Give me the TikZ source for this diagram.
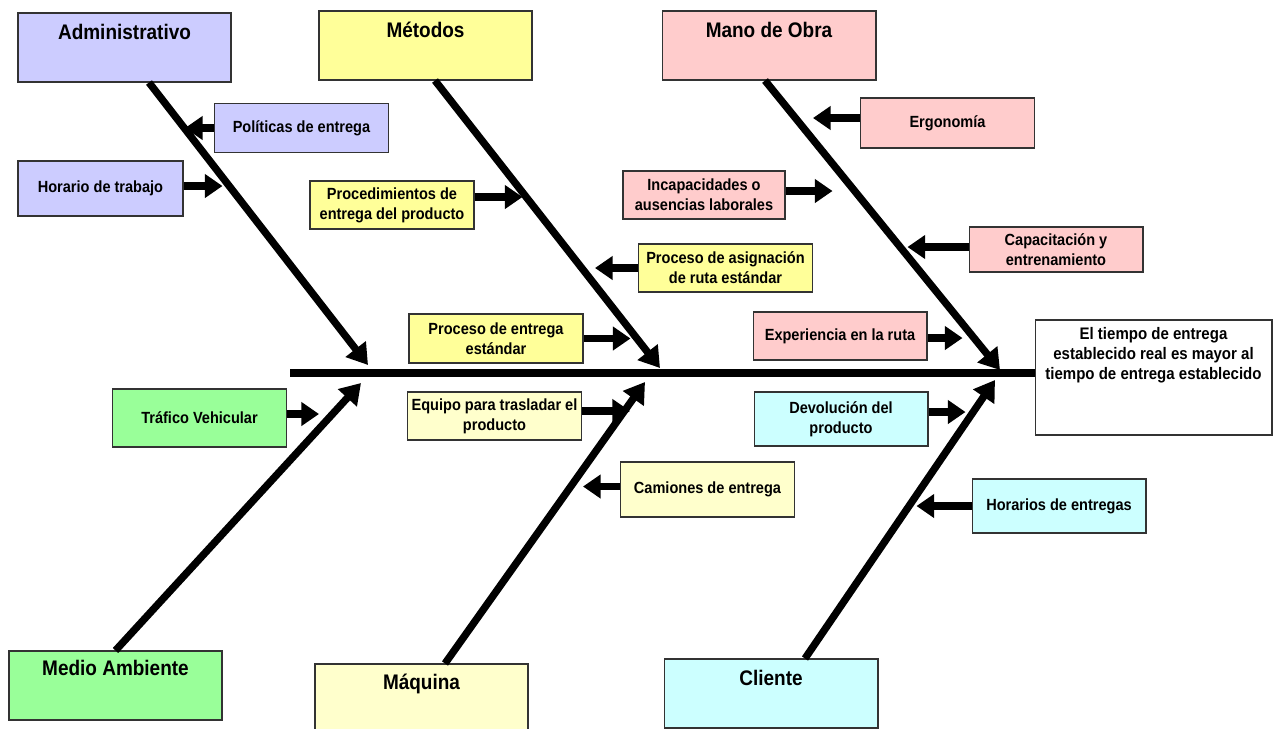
\documentclass[tikz,border=0pt]{standalone}
\usepackage{fontspec}
\setmainfont{Liberation Sans}[FakeStretch=0.9]
\usetikzlibrary{positioning, arrows.meta, calc}
\definecolor{admblue}{HTML}{CCCCFF}
\definecolor{metyellow}{HTML}{FFFF99}
\definecolor{obrapink}{HTML}{FFCCCC}
\definecolor{ambgreen}{HTML}{99FF99}
\definecolor{maqyellow}{HTML}{FFFFCC}
\definecolor{clicyan}{HTML}{CCFFFF}

\begin{document}
\begin{tikzpicture}[x=0.02cm, y=-0.02cm,
    catbox/.style={draw=black!80, line width=0.6pt, minimum width=4.26cm,
        minimum height=1.38cm, inner sep=0pt},
    catlabel/.style={anchor=north, inner sep=0pt, yshift=-0.22cm, text height=8.7pt,
        font=\fontsize{12}{14}\selectfont\bfseries},
    causebox/.style={draw=black!80, line width=0.6pt, minimum width=3.48cm,
        minimum height=0.98cm, inner sep=0pt, align=center,
        font=\fontsize{9.2}{11.5}\selectfont\bfseries},
    bone/.style={line width=4.2pt, -{Triangle[length=11.5pt, width=14pt]}},
    twig/.style={line width=4pt, -{Triangle[length=10pt, width=13pt]}}]
    \useasboundingbox (0,0) rectangle (1281,728);

    % Categories
    \node[catbox, fill=admblue, label={[catlabel]north:Administrativo}] (adm) at (124.5,47.5) {};
    \node[catbox, fill=metyellow, label={[catlabel]north:Métodos}] (met) at (425.5,45.5) {};
    \node[catbox, fill=obrapink, minimum width=4.28cm, label={[catlabel]north:Mano de Obra}] (obra) at (769,45.5) {};
    \node[catbox, fill=ambgreen, label={[catlabel, yshift=0.04cm]north:Medio Ambiente}] (amb) at (115.5,685.5) {};
    \node[catbox, fill=maqyellow, label={[catlabel, yshift=0.02cm]north:Máquina}] (maq) at (421.5,698.5) {};
    \node[catbox, fill=clicyan, minimum width=4.28cm, label={[catlabel]north:Cliente}] (cli) at (771,693.5) {};

    % Effect
    \node[draw=black!80, line width=0.6pt, fill=white, minimum width=4.74cm, minimum height=2.3cm,
        label={[anchor=north, yshift=-0.15cm, inner sep=0pt, align=center,
        font=\fontsize{9.5}{11.4}\selectfont\bfseries]north:El tiempo de entrega\\establecido real es mayor al\\tiempo de entrega establecido}]
        (eff) at (1153.5,377.5) {};

    % Spine and bones
    \coordinate (tail) at (290,373);
    \draw[line width=4.5pt] (tail) -- (tail -| eff.west);
    \coordinate (tadm) at (368,365);
    \coordinate (tmet) at (660,368);
    \coordinate (tobra) at (1000,370);
    \coordinate (tamb) at (361,383);
    \coordinate (tmaq) at (645,382);
    \coordinate (tcli) at (995,380);
    \draw[bone] ($(adm.south)+(24.5,0)$) -- (tadm);
    \draw[bone] ($(met.south)+(9.5,0)$) -- (tmet);
    \draw[bone] ($(obra.south)+(-4,0)$) -- (tobra);
    \draw[bone] (amb.north) -- (tamb);
    \draw[bone] ($(maq.north)+(23.5,0)$) -- (tmaq);
    \draw[bone] ($(cli.north)+(34,0)$) -- (tcli);

    % Causes
    \node[causebox, fill=admblue] (pol) at (301.5,128) {Políticas de entrega};
    \node[causebox, fill=admblue, minimum width=3.3cm, minimum height=1.1cm] (hor) at (100.5,188.5) {Horario de trabajo};
    \node[causebox, fill=metyellow, minimum width=3.28cm, minimum height=0.96cm] (proc) at (392,205) {Procedimientos de\\entrega del producto};
    \node[causebox, fill=metyellow, minimum height=0.96cm] (asig) at (725.5,268) {Proceso de asignación\\de ruta estándar};
    \node[causebox, fill=metyellow] (pent) at (496,338.5) {Proceso de entrega\\estándar};
    \node[causebox, fill=maqyellow, minimum height=0.96cm] (equ) at (494.5,416) {Equipo para trasladar el\\producto};
    \node[causebox, fill=maqyellow, minimum height=1.1cm] (cam) at (707.5,489.5) {Camiones de entrega};
    \node[causebox, fill=ambgreen, minimum height=1.16cm] (tra) at (199.5,418) {Tráfico Vehicular};
    \node[causebox, fill=obrapink, minimum height=1.0cm] (erg) at (947.5,123) {Ergonomía};
    \node[causebox, fill=obrapink, minimum width=3.24cm, minimum height=0.96cm] (inc) at (704,195) {Incapacidades o\\ausencias laborales};
    \node[causebox, fill=obrapink, minimum height=0.9cm] (cap) at (1056,249.5) {Capacitación y\\entrenamiento};
    \node[causebox, fill=obrapink, minimum height=0.96cm] (exp) at (840,336) {Experiencia en la ruta};
    \node[causebox, fill=clicyan, minimum height=1.08cm] (dev) at (841,419) {Devolución del\\producto};
    \node[causebox, fill=clicyan, minimum height=1.08cm] (hoe) at (1059,506) {Horarios de entregas};

    % Cause arrows
    \foreach \n/\side/\dy/\dx in {pol/west/0/-29, hor/east/-2.5/39, proc/east/-8/48,
        asig/west/0/-43, pent/east/0/47, equ/east/-5/48, cam/west/-3/-37,
        tra/east/-4/32, erg/west/-5/-47, inc/east/-4/47, cap/west/-2.5/-61,
        exp/east/2/35, dev/east/-7/37, hoe/west/0/-55} {
        \draw[twig] ($(\n.\side)+(0,\dy)$) -- ++(\dx,0);
    }
\end{tikzpicture}
\end{document}
